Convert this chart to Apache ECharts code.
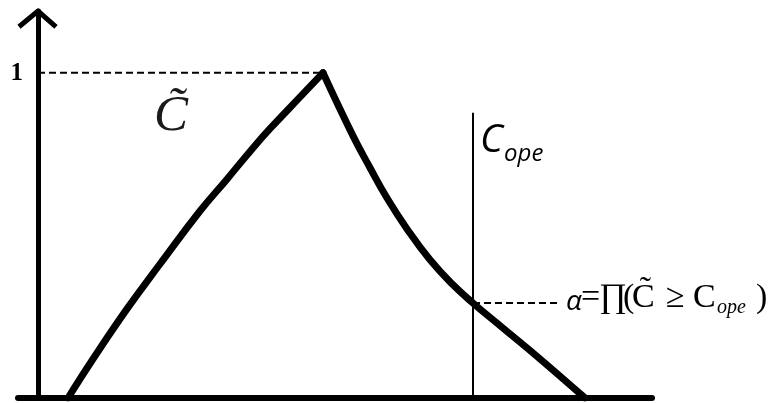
<!DOCTYPE html>
<html>
<head>
<meta charset="utf-8">
<script src="https://cdn.jsdelivr.net/npm/echarts@6/dist/echarts.min.js"></script>
<style>
  html, body { margin: 0; padding: 0; background: #fff; }
  #chart { width: 771px; height: 403px; }
</style>
</head>
<body>
<div id="chart"></div>
<script>
// Membership function of the fuzzy cost C̃ (x: cost, y: membership degree)
const risingX = [3.0, 5.5, 8.9, 12.2, 16.2, 18.9, 21.5, 23.2, 26.5, 28.5];
const risingY = [0, 0.12, 0.274, 0.412, 0.575, 0.673, 0.769, 0.828, 0.935, 1];
const fallingX = [28.5, 31.5, 33.2, 34.9, 36.9, 39.2, 41.5, 43.5, 46.5, 49.9, 54.7];
const fallingY = [1, 0.806, 0.708, 0.615, 0.52, 0.425, 0.348, 0.292, 0.215, 0.128, 0];

// Operating cost and the possibility level it cuts the curve at
const cOpe = 43.5;
const alphaLevel = 0.292;
const peakLevel = 1;

// Y tick shown on the axis
const yTickValues = [1];
const yTickLabels = ['1'];

// ---- layout (axis extents, guide line extents, label anchors) ----
const X_MIN = -2, X_MAX = 61.4, Y_MAX = 1.19;
const cOpeTop = 0.877;
const alphaGuideEnd = 52.2;

const rising = risingX.map((x, i) => [x, risingY[i]]);
const falling = fallingX.map((x, i) => [x, fallingY[i]]);

const black = '#000';
const dash = [7, 4];

function guide(data, width, type) {
  return {
    type: 'line', data: data, symbol: 'none', silent: true, z: 3,
    lineStyle: { color: black, width: width, type: type }
  };
}

function branch(data) {
  return {
    type: 'line', data: data, symbol: 'none', silent: true, z: 5,
    smooth: 0.45,
    lineStyle: { color: black, width: 7, cap: 'round', join: 'round' }
  };
}

const chart = echarts.init(document.getElementById('chart'), null, { renderer: 'canvas' });

chart.setOption({
  animation: false,
  grid: { left: 18, right: 119, top: 11, bottom: 5, containLabel: false, outerBoundsMode: 'none' },
  xAxis: {
    type: 'value', min: X_MIN, max: X_MAX,
    axisLine: { show: true, onZero: true, lineStyle: { color: black, width: 6, cap: 'round' } },
    axisTick: { show: false }, axisLabel: { show: false }, splitLine: { show: false }
  },
  yAxis: {
    type: 'value', min: 0, max: Y_MAX,
    axisLine: { show: true, onZero: true, lineStyle: { color: black, width: 5 } },
    axisTick: { show: false }, splitLine: { show: false }, axisLabel: { show: false }
  },
  series: [
    // arrow head of the membership axis
    {
      type: 'line', symbol: 'none', silent: true, z: 4,
      data: [[-1.9, 1.1415], [0, Y_MAX], [1.8, 1.1415]],
      lineStyle: { color: black, width: 5, join: 'miter' }
    },
    guide([[0, peakLevel], [risingX[risingX.length - 1], peakLevel]], 2, dash),
    guide([[cOpe, 0], [cOpe, cOpeTop]], 2, 'solid'),
    guide([[cOpe, alphaLevel], [alphaGuideEnd, alphaLevel]], 2, dash),
    branch(rising),
    branch(falling)
  ]
});

// ---- text labels placed from data anchors ----
const px = (x, y) => chart.convertToPixel({ gridIndex: 0 }, [x, y]);

function label(pos, dx, dy, text, font, opts) {
  return {
    type: 'text', x: pos[0] + dx, y: pos[1] + dy, silent: true, z: 10,
    style: Object.assign({
      text: text, font: font, fill: '#000',
      align: 'left', verticalAlign: 'middle'
    }, opts || {})
  };
}

const serif = '"Liberation Serif", "Times New Roman", serif';
const sans = '"Open Sans", "Noto Sans", sans-serif';

const cTildeAnchor = px(13.4, 0.865);
const copeAnchor = px(cOpe, cOpeTop);
const alphaAnchor = px(alphaGuideEnd, alphaLevel);

const elements = yTickValues.map((v, i) =>
  label(px(0, v), -15, 1, yTickLabels[i], 'bold 25px ' + serif, { align: 'right' })
).concat([
  label(cTildeAnchor, -1, 0, 'C\u0303', 'italic 51px ' + serif, { align: 'center', fill: '#1a1a1a' }),
  label(copeAnchor, 7, 28, 'C', 'italic 39px ' + sans),
  label(copeAnchor, 31, 41, 'ope', 'italic 24px ' + sans),
  label(alphaAnchor, 6, -1, '\u03b1', 'italic 28px ' + sans),
  label(alphaAnchor, 21, -5, '=', '34px ' + serif),
  label(alphaAnchor, 39, -5, '\u220f', '34px ' + serif),
  label(alphaAnchor, 63, -5, '(', '34px ' + serif),
  label(alphaAnchor, 72, -5, 'C\u0303', '34px ' + serif),
  label(alphaAnchor, 106, -5, '\u2265', '34px ' + serif),
  label(alphaAnchor, 133, -5, 'C', '34px ' + serif),
  label(alphaAnchor, 157, 5, 'ope', 'italic 20px ' + serif),
  label(alphaAnchor, 196, -5, ')', '34px ' + serif)
]);

chart.setOption({ graphic: { elements: elements } });
</script>
</body>
</html>
